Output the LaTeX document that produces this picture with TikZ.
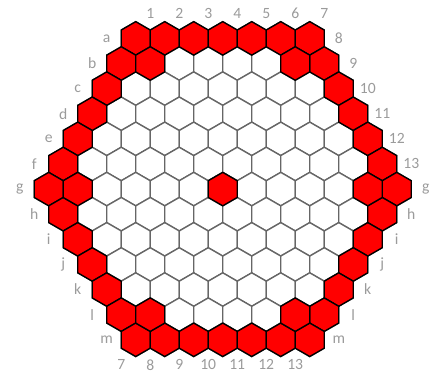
\documentclass[tikz,border=0pt]{standalone}
\usepackage{fontspec}
\setmainfont{Carlito}
\usepackage{tikz}
\definecolor{lblgray}{RGB}{155,155,155}
\def\hexr{0.57735}
\def\rowh{0.866}
\newcommand\hexcell[3]{\draw[#1] (#2,#3) +(90:\hexr) -- +(150:\hexr) -- +(210:\hexr) -- +(270:\hexr) -- +(330:\hexr) -- +(30:\hexr) -- cycle;}

\begin{document}
\begin{tikzpicture}[x=0.75cm,y=0.75cm,
  every node/.style={font=\fontsize{11.5}{13}\selectfont,text=lblgray,inner sep=0pt},
  cell/.style={draw=black!60,fill=white,line width=1pt},
  hot/.style={draw=black,fill=red,line width=1pt}]
  \useasboundingbox (-7.68,-6.37) rectangle (7.56,6.52);
  % white board, rows a..m
  \foreach \r in {0,...,12} {
    \pgfmathtruncatemacro\n{13-abs(\r-6)}
    \foreach \i in {1,...,\n} {
      \hexcell{cell}{{\i-1-(\n-1)/2}}{{(6-\r)*\rowh}}
    }
  }
  % red rim
  \foreach \r in {0,...,12} {
    \pgfmathtruncatemacro\n{13-abs(\r-6)}
    \foreach \i in {1,...,\n} {
      \pgfmathtruncatemacro\rim{(\r==0)||(\r==12)||(\i==1)||(\i==\n)}
      \ifnum\rim=1 \hexcell{hot}{{\i-1-(\n-1)/2}}{{(6-\r)*\rowh}}\fi
    }
  }
  % corner neighbours and centre
  \foreach \r/\i in {1/2,1/7,6/2,6/7,6/12,11/2,11/7} {
    \pgfmathtruncatemacro\n{13-abs(\r-6)}
    \hexcell{hot}{{\i-1-(\n-1)/2}}{{(6-\r)*\rowh}}
  }
  % diagonal numbers
  \foreach \dg in {1,...,7} \node (top\dg) at ({\dg-3.5},{7*\rowh}) {\dg};
  \foreach \dg in {8,...,13} \node (top\dg) at ({\dg/2},{(14-\dg)*\rowh}) {\dg};
  \foreach \dg in {7,...,13} \node (bot\dg) at ({\dg-10.5},{-7*\rowh}) {\dg};
  % row letters
  \foreach \lt [count=\r from 0] in {a,...,m} {
    \pgfmathsetmacro\n{13-abs(\r-6)}
    \node (left\lt) at ({-(\n-1)/2-1},{(6-\r)*\rowh}) {\lt};
  }
  \foreach \lt [count=\r from 6] in {g,...,m} {
    \pgfmathsetmacro\n{13-abs(\r-6)}
    \node (right\lt) at ({(\n-1)/2+1},{(6-\r)*\rowh}) {\lt};
  }
\end{tikzpicture}
\end{document}
